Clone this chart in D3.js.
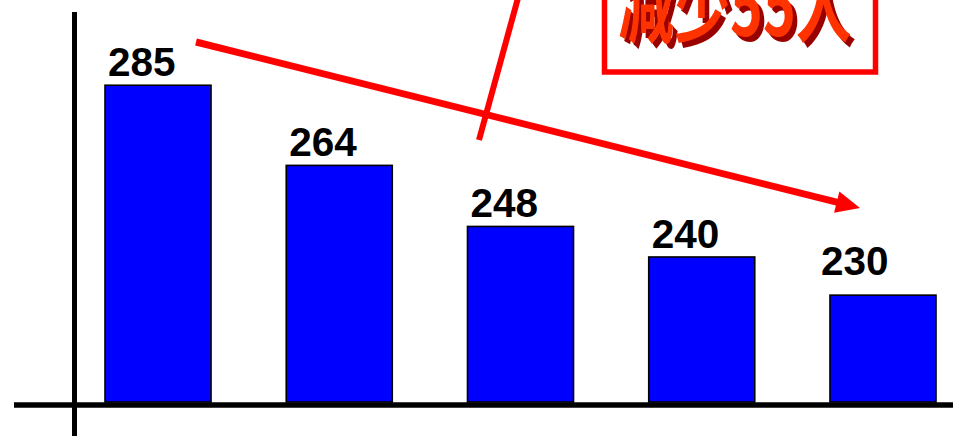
<!DOCTYPE html>
<html><head><meta charset="utf-8">
<script src="https://cdn.jsdelivr.net/npm/d3@7/dist/d3.min.js"></script>
<style>html,body{margin:0;padding:0;background:#fff;overflow:hidden}</style>
</head><body>
<svg id="c" width="953" height="436"></svg>
<script>
const categories = ["A", "B", "C", "D", "E"];
const values = [285, 264, 248, 240, 230];
const labels = ["285", "264", "248", "240", "230"];
const noteText = "减少55人";

const svg = d3.select("#c");
const x = d3.scaleBand().domain(categories).range([105, 936]).paddingInner(0.415).paddingOuter(0);
const y = d3.scaleLinear().domain([202, 300]).range([402, 28]);

// bars
svg.selectAll("rect.bar").data(values).join("rect")
  .attr("class", "bar")
  .attr("x", (d, i) => x(categories[i]))
  .attr("y", d => y(d))
  .attr("width", x.bandwidth())
  .attr("height", d => y(202) - y(d))
  .attr("fill", "#0000FF")
  .attr("stroke", "#000")
  .attr("stroke-width", 1.6);

// value labels
svg.selectAll("text.lbl").data(values).join("text")
  .attr("class", "lbl")
  .attr("x", (d, i) => x(categories[i]) + 3 + (i === 4 ? -12 : 0))
  .attr("y", (d, i) => y(d) - (i === 4 ? 20 : 9))
  .attr("font-family", "Liberation Sans, Arial, sans-serif")
  .attr("font-weight", "bold")
  .attr("font-size", 40.5)
  .attr("fill", "#000")
  .text((d, i) => labels[i]);

// axes
svg.append("line").attr("x1", 14).attr("x2", 953).attr("y1", 405).attr("y2", 405)
  .attr("stroke", "#000").attr("stroke-width", 5.5);
svg.append("line").attr("x1", 74.5).attr("x2", 74.5).attr("y1", 12).attr("y2", 436)
  .attr("stroke", "#000").attr("stroke-width", 5);

// red callout line
svg.append("line").attr("x1", 518).attr("y1", -2).attr("x2", 479).attr("y2", 140)
  .attr("stroke", "#FF0000").attr("stroke-width", 6);

// red arrow
const ax1 = 196, ay1 = 42, ax2 = 860, ay2 = 208;
const ang = Math.atan2(ay2 - ay1, ax2 - ax1);
const hl = 24, hw = 11;
const bx = ax2 - hl * Math.cos(ang), by = ay2 - hl * Math.sin(ang);
svg.append("line").attr("x1", ax1).attr("y1", ay1).attr("x2", bx + 2).attr("y2", by + 0.5)
  .attr("stroke", "#FF0000").attr("stroke-width", 7);
svg.append("path")
  .attr("d", `M${ax2},${ay2}L${bx - hw * Math.sin(ang)},${by + hw * Math.cos(ang)}L${bx + hw * Math.sin(ang)},${by - hw * Math.cos(ang)}Z`)
  .attr("fill", "#FF0000");

// note box
svg.append("rect").attr("x", 604.5).attr("y", -40).attr("width", 271).attr("height", 112)
  .attr("fill", "#fff").attr("stroke", "#FF0000").attr("stroke-width", 5.5);
const sx = 0.9, sy = 1.3;
const tg = svg.append("g").attr("transform", `translate(735,36) scale(${sx},${sy})`)
  .attr("font-family", "Noto Sans CJK SC, sans-serif")
  .attr("font-weight", 700).attr("font-size", 62).attr("text-anchor", "middle");
tg.append("text").attr("x", 4.5 / sx).attr("y", 4.5 / sy).attr("fill", "#990000").text(noteText);
tg.append("text").attr("x", 0).attr("y", 0).attr("fill", "#FF3300").text(noteText);
</script>
</body></html>
